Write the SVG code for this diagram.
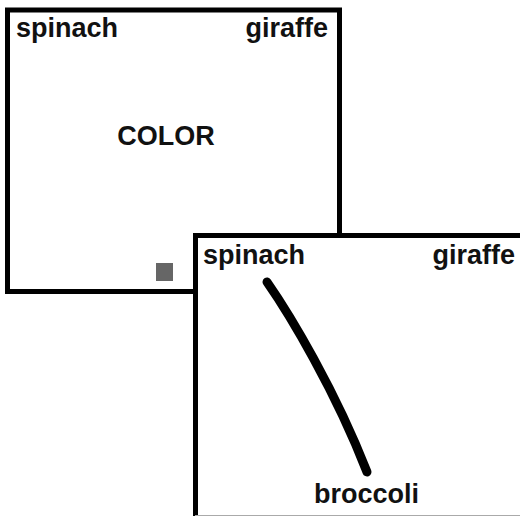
<svg xmlns="http://www.w3.org/2000/svg" width="520" height="516" viewBox="0 0 520 516">
<style>
.frame{fill:#fff;stroke:#000;stroke-width:5}
.t{font-family:"Liberation Sans",Arial,sans-serif;font-weight:bold;font-size:27px;fill:#111}
</style>
<rect width="520" height="516" fill="#fff"/>
<g id="panel1">
<rect class="frame" x="7.5" y="10" width="332" height="281.5"/>
<text class="t" x="16" y="37">spinach</text>
<text class="t" x="328" y="37" text-anchor="end">giraffe</text>
<text class="t" x="166" y="145" text-anchor="middle">COLOR</text>
<rect x="156" y="263" width="17" height="18" fill="#666"/>
</g>
<g id="panel2">
<rect class="frame" x="195.5" y="235.5" width="340" height="300"/>
<line x1="195" y1="515.5" x2="520" y2="515.5" stroke="#aaa" stroke-width="1"/>
<text class="t" x="203" y="264">spinach</text>
<text class="t" x="515" y="264" text-anchor="end">giraffe</text>
<text class="t" x="314" y="503">broccoli</text>
</g>
<g id="connectors">
<path d="M267,282 C290,315 335,390 367,472" fill="none" stroke="#000" stroke-width="9" stroke-linecap="round"/>
</g>
</svg>
